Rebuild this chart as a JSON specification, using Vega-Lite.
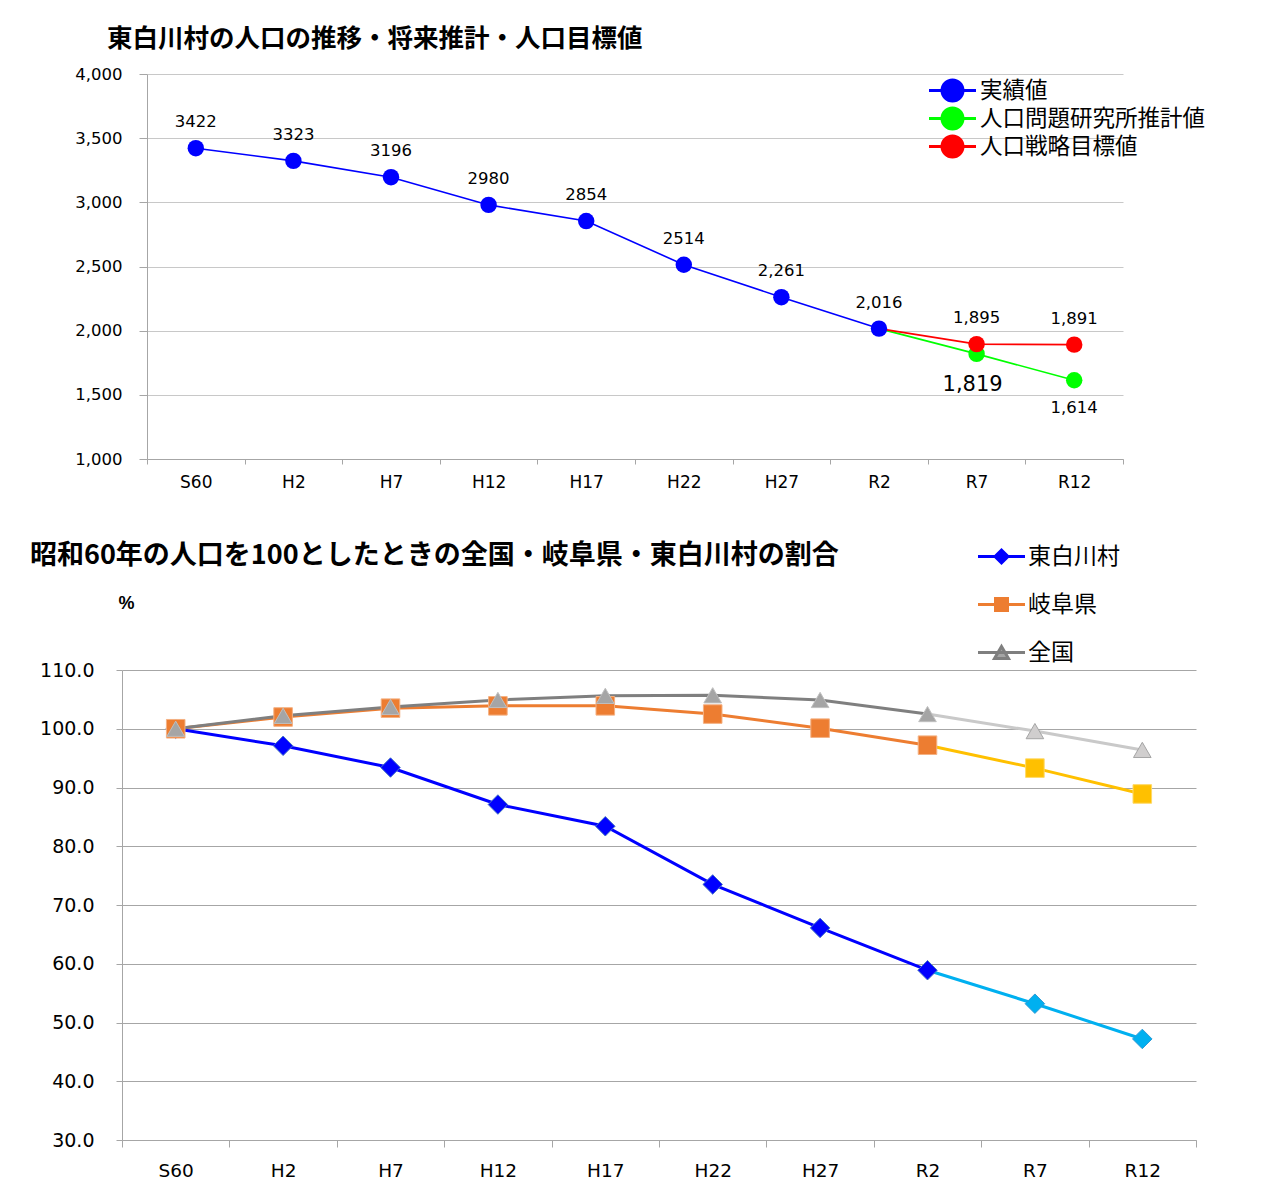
{
  "$schema": "https://vega.github.io/schema/vega-lite/v6.json",
  "background": "white",
  "padding": {"left": 30, "top": 26, "right": 0, "bottom": 0},
  "columns": 1,
  "align": "none",
  "bounds": "full",
  "spacing": 52,
  "resolve": {"scale": {"color": "independent"}, "legend": {"color": "independent"}},
  "config": {"view": {"stroke": null}},
  "datasets": {
    "pop": [
      {"year": "S60", "series": "実績値", "value": 3422, "label": "3422"},
      {"year": "H2", "series": "実績値", "value": 3323, "label": "3323"},
      {"year": "H7", "series": "実績値", "value": 3196, "label": "3196"},
      {"year": "H12", "series": "実績値", "value": 2980, "label": "2980"},
      {"year": "H17", "series": "実績値", "value": 2854, "label": "2854"},
      {"year": "H22", "series": "実績値", "value": 2514, "label": "2514"},
      {"year": "H27", "series": "実績値", "value": 2261, "label": "2,261"},
      {"year": "R2", "series": "実績値", "value": 2016, "label": "2,016"},
      {"year": "R2", "series": "人口問題研究所推計値", "value": 2016, "label": ""},
      {"year": "R7", "series": "人口問題研究所推計値", "value": 1819, "label": "1,819"},
      {"year": "R12", "series": "人口問題研究所推計値", "value": 1614, "label": "1,614"},
      {"year": "R2", "series": "人口戦略目標値", "value": 2016, "label": ""},
      {"year": "R7", "series": "人口戦略目標値", "value": 1895, "label": "1,895"},
      {"year": "R12", "series": "人口戦略目標値", "value": 1891, "label": "1,891"}
    ],
    "ratio": [
      {"year": "S60", "region": "東白川村", "line": "東白川村", "v": 100.0},
      {"year": "H2", "region": "東白川村", "line": "東白川村", "v": 97.1},
      {"year": "H7", "region": "東白川村", "line": "東白川村", "v": 93.4},
      {"year": "H12", "region": "東白川村", "line": "東白川村", "v": 87.1},
      {"year": "H17", "region": "東白川村", "line": "東白川村", "v": 83.4},
      {"year": "H22", "region": "東白川村", "line": "東白川村", "v": 73.5},
      {"year": "H27", "region": "東白川村", "line": "東白川村", "v": 66.1},
      {"year": "R2", "region": "東白川村", "line": "東白川村", "v": 58.9},
      {"year": "R2", "region": "東白川村", "line": "東白川村（推計）", "v": 58.9},
      {"year": "R7", "region": "東白川村", "line": "東白川村（推計）", "v": 53.2},
      {"year": "R12", "region": "東白川村", "line": "東白川村（推計）", "v": 47.2},
      {"year": "S60", "region": "岐阜県", "line": "岐阜県", "v": 100.0},
      {"year": "H2", "region": "岐阜県", "line": "岐阜県", "v": 102.0},
      {"year": "H7", "region": "岐阜県", "line": "岐阜県", "v": 103.5},
      {"year": "H12", "region": "岐阜県", "line": "岐阜県", "v": 103.9},
      {"year": "H17", "region": "岐阜県", "line": "岐阜県", "v": 103.9},
      {"year": "H22", "region": "岐阜県", "line": "岐阜県", "v": 102.5},
      {"year": "H27", "region": "岐阜県", "line": "岐阜県", "v": 100.1},
      {"year": "R2", "region": "岐阜県", "line": "岐阜県", "v": 97.2},
      {"year": "R2", "region": "岐阜県", "line": "岐阜県（推計）", "v": 97.2},
      {"year": "R7", "region": "岐阜県", "line": "岐阜県（推計）", "v": 93.3},
      {"year": "R12", "region": "岐阜県", "line": "岐阜県（推計）", "v": 88.9},
      {"year": "S60", "region": "全国", "line": "全国", "v": 100.0},
      {"year": "H2", "region": "全国", "line": "全国", "v": 102.2},
      {"year": "H7", "region": "全国", "line": "全国", "v": 103.7},
      {"year": "H12", "region": "全国", "line": "全国", "v": 104.9},
      {"year": "H17", "region": "全国", "line": "全国", "v": 105.6},
      {"year": "H22", "region": "全国", "line": "全国", "v": 105.7},
      {"year": "H27", "region": "全国", "line": "全国", "v": 104.9},
      {"year": "R2", "region": "全国", "line": "全国", "v": 102.5},
      {"year": "R2", "region": "全国", "line": "全国（推計）", "v": 102.5},
      {"year": "R7", "region": "全国", "line": "全国（推計）", "v": 99.6},
      {"year": "R12", "region": "全国", "line": "全国（推計）", "v": 96.4}
    ]
  },
  "concat": [
    {
      "width": 1001,
      "height": 385,
      "data": {"name": "pop"},
      "title": {"text": "東白川村の人口の推移・将来推計・人口目標値", "anchor": "start", "frame": "group", "dx": -15, "offset": -11, "baseline": "bottom", "fontSize": 25.5, "font": "Noto Sans CJK JP", "fontWeight": "bold", "color": "#000000"},
      "encoding": {
        "x": {"field": "year", "type": "ordinal", "sort": ["S60", "H2", "H7", "H12", "H17", "H22", "H27", "R2", "R7", "R12"],
              "scale": {"type": "band", "paddingInner": 0, "paddingOuter": 0, "range": [25, 1001]},
              "axis": {"title": null, "labelAngle": 0, "tickBand": "extent", "tickSize": 5, "labelPadding": 10, "labelFont": "DejaVu Sans", "labelFontSize": 17, "labelColor": "#000000", "domainColor": "#A6A6A6", "tickColor": "#A6A6A6", "grid": false}},
        "y": {"field": "value", "type": "quantitative", "scale": {"domain": [1000, 4000]},
              "axis": {"title": null, "offset": -25, "values": [1000, 1500, 2000, 2500, 3000, 3500, 4000], "format": ",.0f", "labelFont": "DejaVu Sans", "labelFontSize": 16.5, "labelColor": "#000000", "labelPadding": 17, "tickSize": 8, "tickColor": "#A6A6A6", "domainColor": "#A6A6A6", "gridColor": "#C8C8C8"}},
        "color": {"field": "series", "type": "nominal",
                  "scale": {"domain": ["実績値", "人口問題研究所推計値", "人口戦略目標値"], "range": ["#0000FF", "#00FF00", "#FF0000"]},
                  "legend": {"orient": "none", "legendX": 819, "legendY": 5, "title": null, "padding": 0,
                             "symbolSize": 400, "symbolType": "M-2.35,0H2.35M-1.05,0A1.05,1.05 0 1,0 1.05,0A1.05,1.05 0 1,0 -1.05,0",
                             "symbolStrokeWidth": 3, "labelFont": "Noto Sans CJK JP", "labelFontSize": 22.5, "labelLimit": 400, "labelColor": "#000000", "labelOffset": 16, "rowPadding": -8,
                             "encode": {"symbols": {"update": {"fill": {"scale": "color", "field": "value"}, "stroke": {"scale": "color", "field": "value"}, "opacity": {"value": 1}}}}}}
      },
      "layer": [
        {"mark": {"type": "line", "strokeWidth": 1.6}},
        {"transform": [{"filter": "datum.series === '実績値' || datum.year !== 'R2'"}],
         "mark": {"type": "point", "filled": true, "opacity": 1, "size": 270}},
        {"transform": [{"filter": "datum.series === '実績値'"}],
         "mark": {"type": "text", "dy": -26, "font": "DejaVu Sans", "fontSize": 16.5},
         "encoding": {"text": {"field": "label"}, "color": {"value": "#000000"}}},
        {"transform": [{"filter": "datum.series === '人口戦略目標値' && datum.label !== ''"}],
         "mark": {"type": "text", "dy": -26, "font": "DejaVu Sans", "fontSize": 16.5},
         "encoding": {"text": {"field": "label"}, "color": {"value": "#000000"}}},
        {"transform": [{"filter": "datum.series === '人口問題研究所推計値' && datum.year === 'R7'"}],
         "mark": {"type": "text", "dy": 31, "dx": -4, "font": "DejaVu Sans", "fontSize": 21},
         "encoding": {"text": {"field": "label"}, "color": {"value": "#000000"}}},
        {"transform": [{"filter": "datum.series === '人口問題研究所推計値' && datum.year === 'R12'"}],
         "mark": {"type": "text", "dy": 28, "font": "DejaVu Sans", "fontSize": 16.5},
         "encoding": {"text": {"field": "label"}, "color": {"value": "#000000"}}}
      ]
    },
    {
      "width": 1074,
      "height": 470,
      "data": {"name": "ratio"},
      "title": {"text": "昭和60年の人口を100としたときの全国・岐阜県・東白川村の割合", "anchor": "start", "frame": "group", "dx": -92, "offset": -52, "baseline": "bottom", "fontSize": 27, "font": "Noto Sans CJK JP", "fontWeight": "bold", "color": "#000000"},
      "encoding": {
        "x": {"field": "year", "type": "ordinal", "sort": ["S60", "H2", "H7", "H12", "H17", "H22", "H27", "R2", "R7", "R12"],
              "scale": {"type": "band", "paddingInner": 0, "paddingOuter": 0},
              "axis": {"title": null, "labelAngle": 0, "tickBand": "extent", "tickSize": 7, "labelPadding": 14, "labelFont": "DejaVu Sans", "labelFontSize": 18.5, "labelColor": "#000000", "domainColor": "#A6A6A6", "tickColor": "#A6A6A6", "grid": false}},
        "y": {"field": "v", "type": "quantitative", "scale": {"domain": [30, 110]},
              "axis": {"values": [30, 40, 50, 60, 70, 80, 90, 100, 110], "format": ".1f", "labelFont": "DejaVu Sans", "labelFontSize": 19, "labelColor": "#000000", "labelPadding": 22, "tickSize": 6, "tickColor": "#A6A6A6", "domainColor": "#A6A6A6", "gridColor": "#A6A6A6",
                       "title": "%", "titleAngle": 0, "titleX": -4, "titleY": -67, "titleAlign": "left", "titleBaseline": "middle", "titleFont": "Liberation Sans", "titleFontSize": 18, "titleFontWeight": "bold", "titleColor": "#000000"}}
      },
      "layer": [
        {"mark": {"type": "line", "strokeWidth": 3},
         "encoding": {
           "color": {"field": "line", "type": "nominal",
                     "scale": {"domain": ["東白川村", "岐阜県", "全国", "東白川村（推計）", "岐阜県（推計）", "全国（推計）"], "range": ["#0000FF", "#ED7D31", "#7F7F7F", "#00B0F0", "#FFC000", "#C9C9C9"]},
                     "legend": {"values": ["東白川村", "岐阜県", "全国"], "orient": "none", "legendX": 868, "legendY": -125, "title": null, "padding": 0,
                                "symbolSize": 400, "symbolStrokeWidth": 3,
                                "labelFont": "Noto Sans CJK JP", "labelFontSize": 23, "labelColor": "#000000", "labelOffset": 15, "rowPadding": 23,
                                "encode": {"symbols": {"update": {
                                  "shape": {"signal": "datum.value === '東白川村' ? 'M-2.35,0H2.35M-0.65,0L0,-0.65L0.65,0L0,0.65Z' : datum.value === '岐阜県' ? 'M-2.35,0H2.35M-0.6,-0.6H0.6V0.6H-0.6Z' : 'M-2.35,0H2.35M0,-0.6L0.7,0.6H-0.7Z'"},
                                  "fill": {"signal": "datum.value === '東白川村' ? '#0000FF' : datum.value === '岐阜県' ? '#ED7D31' : '#A5A5A5'"},
                                  "stroke": {"signal": "datum.value === '東白川村' ? '#0000FF' : datum.value === '岐阜県' ? '#ED7D31' : '#7F7F7F'"},
                                  "opacity": {"value": 1}}}}}}
         }},
        {"transform": [{"filter": "datum.line === datum.region || datum.year !== 'R2'"}],
         "mark": {"type": "point", "filled": true, "opacity": 1, "strokeWidth": 1},
         "encoding": {
           "shape": {"field": "region", "type": "nominal", "scale": {"domain": ["東白川村", "岐阜県", "全国"], "range": ["diamond", "square", "triangle-up"]}, "legend": null},
           "size": {"field": "region", "type": "nominal", "scale": {"domain": ["東白川村", "岐阜県", "全国"], "range": [380, 310, 300]}, "legend": null},
           "fill": {"field": "line", "type": "nominal", "scale": {"domain": ["東白川村", "岐阜県", "全国", "東白川村（推計）", "岐阜県（推計）", "全国（推計）"], "range": ["#0000FF", "#ED7D31", "#A5A5A5", "#00B0F0", "#FFC000", "#D0CECE"]}, "legend": null},
           "stroke": {"field": "line", "type": "nominal", "scale": {"domain": ["東白川村", "岐阜県", "全国", "東白川村（推計）", "岐阜県（推計）", "全国（推計）"], "range": ["#4472C4", "#F4B183", "#BFBFBF", "#2E9BD6", "#FFD966", "#A5A5A5"]}, "legend": null}
         }}
      ]
    }
  ]
}
